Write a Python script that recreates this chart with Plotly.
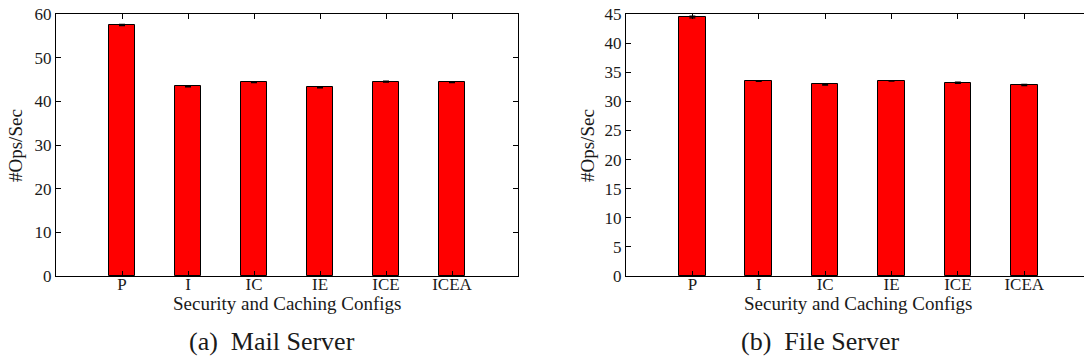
import plotly.graph_objects as go

# Throughput per security/caching configuration
configs = ["P", "I", "IC", "IE", "ICE", "ICEA"]
mail_ops = [57.5, 43.4, 44.4, 43.2, 44.5, 44.4]
mail_err = [0.15, 0.12, 0.12, 0.12, 0.12, 0.12]
file_ops = [44.5, 33.5, 32.9, 33.5, 33.2, 32.8]
file_err = [0.15, 0.08, 0.1, 0.05, 0.1, 0.1]

W, H = 1084, 362
TOP, BOTTOM = 14, 276
FONT = "Liberation Serif"
INK = "#1a1a1a"


def px(x):
    return x / W


def py(y):
    # pixel row -> paper fraction of the plotting area
    return (BOTTOM - y) / (BOTTOM - TOP)


fig = go.Figure()

for ops, err, xa, ya in [(mail_ops, mail_err, "x", "y"), (file_ops, file_err, "x2", "y2")]:
    fig.add_trace(go.Bar(
        x=configs, y=ops, width=0.4,
        marker=dict(color="#ff0000", line=dict(color="#000000", width=1)),
        error_y=dict(type="data", array=err, color="#000000", thickness=1.2, width=3),
        xaxis=xa, yaxis=ya, showlegend=False,
    ))

axis_common = dict(
    showline=True, linecolor="#000000", linewidth=1,
    ticks="inside", ticklen=5, tickcolor="#000000", tickwidth=1,
    showgrid=False, zeroline=False,
    tickfont=dict(family=FONT, size=17, color=INK),
)

fig.update_layout(
    width=W, height=H,
    margin=dict(l=0, r=0, t=TOP, b=H - BOTTOM),
    plot_bgcolor="white", paper_bgcolor="white",
    bargap=0,
    xaxis=dict(domain=[px(56), px(518)], type="category", range=[-1, 6],
               mirror="allticks", anchor="y", ticklabelstandoff=-7, **axis_common),
    yaxis=dict(domain=[0, 1], range=[0, 60], dtick=10,
               mirror="allticks", anchor="x", **axis_common),
    xaxis2=dict(domain=[px(626), 1], type="category", range=[-1, 5.9],
                mirror="allticks", anchor="y2", ticklabelstandoff=-7, **axis_common),
    yaxis2=dict(domain=[0, 1], range=[0, 45], dtick=5,
                mirror=False, anchor="x2", **axis_common),
)

ann = []
# axis titles
for cx in (287, 858):
    ann.append(dict(text="Security and Caching Configs", x=px(cx), y=py(303),
                    xref="paper", yref="paper", showarrow=False,
                    font=dict(family=FONT, size=19, color=INK),
                    xanchor="center", yanchor="middle"))
for cx in (15, 587):
    ann.append(dict(text="#Ops/Sec", x=px(cx), y=py(146),
                    xref="paper", yref="paper", showarrow=False, textangle=-90,
                    font=dict(family=FONT, size=19, color=INK),
                    xanchor="center", yanchor="middle"))
# sub-figure captions
for cx, cap in ((272, "(a)  Mail Server"), (820, "(b)  File Server")):
    ann.append(dict(text=cap, x=px(cx), y=py(341),
                    xref="paper", yref="paper", showarrow=False,
                    font=dict(family=FONT, size=26, color=INK),
                    xanchor="center", yanchor="middle"))
fig.update_layout(annotations=ann)

fig.write_html("out.html")
